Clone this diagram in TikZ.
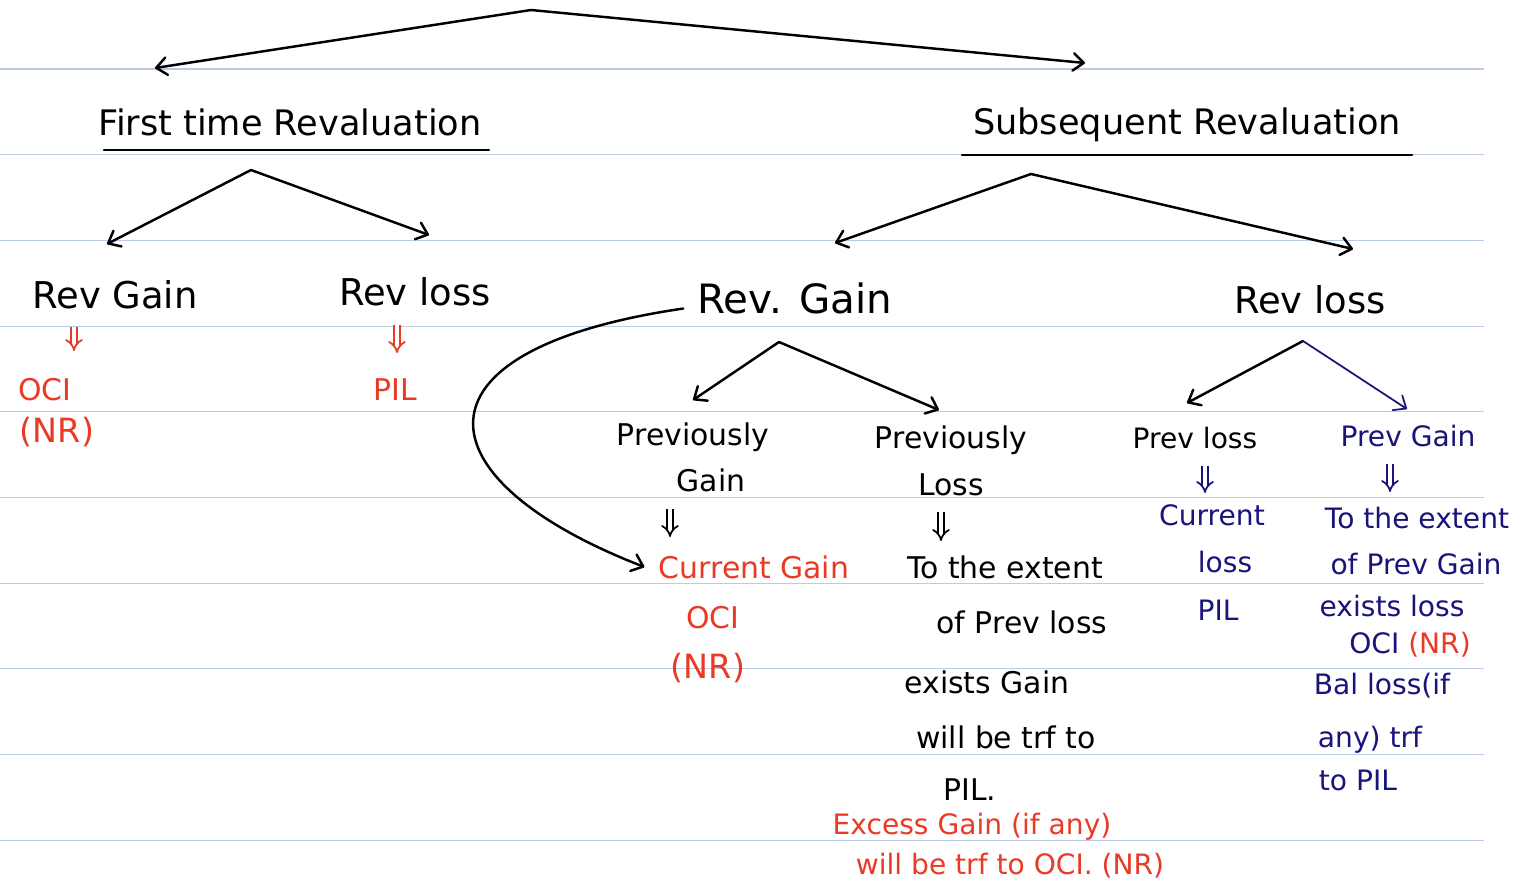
\documentclass[tikz,border=0pt]{standalone}
\usepackage{fontspec}
\setmainfont{DejaVu Sans}
\usetikzlibrary{arrows.meta}
\definecolor{rulecol}{RGB}{188,203,228}
\definecolor{inkred}{RGB}{234,58,38}
\definecolor{inknavy}{RGB}{24,20,122}
\newcommand{\rulegap}{85.7}

\begin{document}
\begin{tikzpicture}[x=0.02cm, y=-0.02cm,
  ink/.style={line width=1.4pt, line cap=round, line join=round},
  arr/.style={ink, -{Straight Barb[length=6pt, width=10pt, round]}},
  dbl/.style={double, double distance=2.4pt, line width=1pt, -{Implies}},
  rule/.style={draw=rulecol, line width=0.6pt},
  head/.style={font=\fontsize{20}{24}\selectfont, inner sep=0pt},
  big/.style={font=\fontsize{21}{25}\selectfont, inner sep=0pt},
  txt/.style={font=\fontsize{17}{21}\selectfont, inner sep=0pt},
  sml/.style={font=\fontsize{16}{19}\selectfont, inner sep=0pt}]
  \useasboundingbox (0,0) rectangle (1516,892);
  \fill[white] (0,0) rectangle (1516,892);
  \foreach \k in {0,...,9}
    \draw[rule] (0,69+\rulegap*\k) -- (1484,69+\rulegap*\k);

  % top split
  \coordinate (top) at (531,10);
  \node[head] (ftr) at (290,122) {First time Revaluation};
  \node[head] (sr) at (1187,125) {Subsequent Revaluation};
  \draw[ink] (104,150) -- (489,150);
  \draw[ink] (962,155) -- (1412,155);
  \draw[arr] (top) -- (155,68);
  \draw[arr] (top) -- (1085,63);

  % first time revaluation
  \coordinate (ftrapex) at (251,170);
  \node[big] (fgain) at (115,295) {Rev Gain};
  \node[big] (floss) at (415,292) {Rev loss};
  \draw[arr] (ftrapex) -- (107,244);
  \draw[arr] (ftrapex) -- (429,235);
  \node[txt, text=inkred] (foci) at (45,390) {OCI};
  \node[txt, text=inkred, font=\fontsize{19}{22}\selectfont] (fnr) at (57,432) {(NR)};
  \node[txt, text=inkred] (fpil) at (395,390) {PIL};
  \draw[dbl, draw=inkred] (74,327) -- (74,351);
  \draw[dbl, draw=inkred] (397,325) -- (397,353);

  % subsequent revaluation
  \coordinate (srapex) at (1031,174);
  \node[big, font=\fontsize{23}{27}\selectfont] (sgain) at (795,298) {Rev. Gain};
  \node[big] (sloss) at (1310,300) {Rev loss};
  \draw[arr] (srapex) -- (835,243);
  \draw[arr] (srapex) -- (1353,249);

  % rev gain: previously gain / previously loss
  \coordinate (sgapex) at (779,342);
  \node[txt] (pg1) at (693,437) {Previously};
  \node[txt] (pg2) at (711,480) {Gain};
  \node[txt] (pl1) at (951,440) {Previously};
  \node[txt] (pl2) at (951,485) {Loss};
  \draw[arr] (sgapex) -- (693,400);
  \draw[arr] (sgapex) -- (939,410);

  \node[txt, text=inkred] (cgain) at (754,567) {Current Gain};
  \node[txt, text=inkred] (coci) at (713,618) {OCI};
  \node[txt, text=inkred, font=\fontsize{19}{22}\selectfont] (cnr) at (708,668) {(NR)};
  \draw[dbl] (670,509) -- (670,537);
  \draw[arr] ([xshift=-8pt, yshift=-6pt]sgain.west) .. controls (400,350) and (420,480) .. ([xshift=-8pt]cgain.west);

  \node[txt] (ext1) at (1005,567) {To the extent};
  \node[txt] (ext2) at (1022,622) {of Prev loss};
  \node[txt] (ext3) at (987,682) {exists Gain};
  \node[txt] (ext4) at (1006,737) {will be trf to};
  \node[txt] (ext5) at (970,790) {PIL.};
  \node[sml, text=inkred] (exc1) at (972,827) {Excess Gain (if any)};
  \node[sml, text=inkred] (exc2) at (1010,866) {will be trf to OCI. (NR)};
  \draw[dbl] (941,512) -- (941,541);

  % rev loss: prev loss / prev gain
  \coordinate (slapex) at (1303,341);
  \node[sml] (ploss) at (1195,438) {Prev loss};
  \node[sml, text=inknavy] (pgain) at (1408,436) {Prev Gain};
  \draw[arr] (slapex) -- (1187,403);
  \draw[arr, draw=inknavy, line width=1pt] (slapex) -- (1407,409);

  \node[sml, text=inknavy] (cl1) at (1212,515) {Current};
  \node[sml, text=inknavy] (cl2) at (1225,562) {loss};
  \node[sml, text=inknavy] (cl3) at (1218,610) {PIL};
  \draw[dbl, draw=inknavy] (1205,466) -- (1205,493);

  \node[sml, text=inknavy] (pv1) at (1417,518) {To the extent};
  \node[sml, text=inknavy] (pv2) at (1416,564) {of Prev Gain};
  \node[sml, text=inknavy] (pv3) at (1392,606) {exists loss};
  \node[sml] (pv4) at (1410,645) {\textcolor{inknavy}{OCI} \textcolor{inkred}{(NR)}};
  \node[sml, text=inknavy] (pv5) at (1382,686) {Bal loss(if};
  \node[sml, text=inknavy] (pv6) at (1370,740) {any) trf};
  \node[sml, text=inknavy] (pv7) at (1358,780) {to PIL};
  \draw[dbl, draw=inknavy] (1390,464) -- (1390,492);
\end{tikzpicture}
\end{document}
